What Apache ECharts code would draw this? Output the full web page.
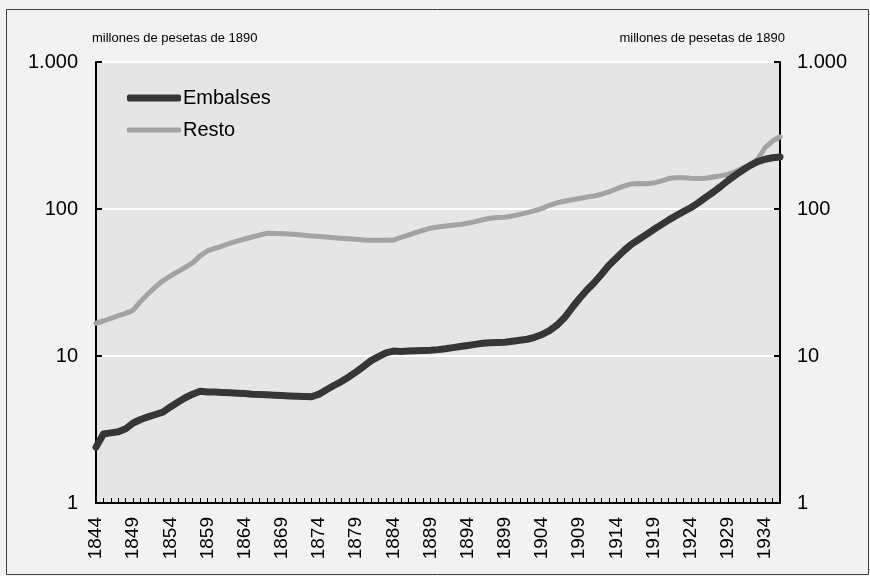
<!DOCTYPE html>
<html>
<head>
<meta charset="utf-8">
<script src="https://cdn.jsdelivr.net/npm/echarts@6/dist/echarts.min.js"></script>
<style>
html,body{margin:0;padding:0;background:#ffffff;}
#chart{width:870px;height:576px;}
</style>
</head>
<body>
<div id="chart"></div>
<script>
// Years 1844..1936
const years = [];
for (let y = 1844; y <= 1936; y++) years.push(String(y));

const embalses = [
  2.4, 2.95, 3.0, 3.05, 3.2, 3.5, 3.7, 3.85, 4.0, 4.15,
  4.5, 4.85, 5.2, 5.5, 5.75, 5.7, 5.68, 5.65, 5.62, 5.58,
  5.55, 5.5, 5.47, 5.44, 5.41, 5.38, 5.35, 5.32, 5.3, 5.28,
  5.5, 5.9, 6.3, 6.7, 7.2, 7.8, 8.5, 9.3, 9.9, 10.5,
  10.8, 10.75, 10.8, 10.85, 10.9, 10.95, 11.05, 11.2, 11.4, 11.6,
  11.8, 12.0, 12.2, 12.3, 12.35, 12.4, 12.6, 12.8, 13.0, 13.4,
  14.0, 14.9, 16.2, 18.2, 21.2, 24.5, 28, 31.5, 36, 41.5,
  46.5, 52, 57.5, 62, 67, 72.5, 78, 84, 90, 96,
  102, 110, 120, 130, 142, 156, 170, 184, 198, 210,
  218, 223, 226
];

const resto = [
  16.7, 17.3, 18.0, 18.8, 19.5, 20.5, 23.5, 26.5, 29.5, 32.5,
  35, 37.5, 40, 43, 48, 52, 54, 56, 58.5, 60.5,
  62.5, 64.5, 66.5, 68.3, 68, 67.8, 67.5, 67, 66.3, 65.6,
  65, 64.4, 63.8, 63.3, 62.8, 62.2, 61.6, 61.2, 61.2, 61.3,
  61.5, 64, 66.5, 69, 71.5, 74, 75.5, 76.5, 77.5, 78.5,
  80, 82, 84.5, 86.5, 87.5, 88, 89.5, 92, 94.5, 97.5,
  101, 106, 110, 113, 115.5, 118, 120.5, 122.5, 126, 131,
  137, 143, 148, 149, 148.5, 150, 155, 161, 163, 163,
  162, 161.5, 162, 165, 168, 172, 180, 190, 200, 218,
  262, 290, 310
];

const seriesNames = ['Embalses', 'Resto'];
const unitLabel = 'millones de pesetas de 1890';

function fmt(v) {
  return v >= 1000 ? String(v).replace(/\B(?=(\d{3})+(?!\d))/g, '.') : String(v);
}

const FONT = 'Liberation Sans, Arial, sans-serif';
const DARK = '#363636';
const LIGHT = '#a3a3a3';
const chart = echarts.init(document.getElementById('chart'), null, {renderer: 'canvas'});

const yAxisCommon = {
  type: 'log',
  logBase: 10,
  min: 1,
  max: 1000,
  axisLine: {show: true, lineStyle: {color: '#000', width: 2}},
  axisTick: {show: true, inside: true, length: 6, lineStyle: {color: '#000', width: 2}},
  minorTick: {show: false},
  axisLabel: {color: '#000', fontSize: 20, fontFamily: FONT, formatter: fmt}
};

const legendCommon = {
  orient: 'vertical',
  left: 127,
  padding: 0,
  itemWidth: 54,
  icon: 'roundRect',
  textStyle: {color: '#000', fontSize: 20, fontFamily: FONT, padding: [0, 0, 0, -3]}
};

chart.setOption({
  backgroundColor: '#f2f2f2',
  animation: false,
  grid: {left: 96, right: 90, top: 62, bottom: 73, show: true, backgroundColor: '#e5e5e5', borderWidth: 0},
  graphic: [
    {type: 'rect', left: 4, top: 7, shape: {width: 862, height: 565}, style: {fill: 'none', stroke: '#404040', lineWidth: 1}, silent: true, z: 100},
    {type: 'text', left: 92, top: 32, style: {text: unitLabel, fontSize: 13, fontFamily: FONT, fill: '#000'}},
    {type: 'text', right: 85, top: 32, style: {text: unitLabel, fontSize: 13, fontFamily: FONT, fill: '#000'}}
  ],
  legend: [
    Object.assign({}, legendCommon, {top: 88, itemHeight: 7, data: [seriesNames[0]]}),
    Object.assign({}, legendCommon, {top: 120, itemHeight: 5, data: [seriesNames[1]]})
  ],
  xAxis: {
    type: 'category',
    data: years,
    boundaryGap: false,
    axisLine: {show: true, lineStyle: {color: '#000', width: 2}},
    axisTick: {show: true, inside: true, length: 5, interval: 0, lineStyle: {color: '#000', width: 1}},
    axisLabel: {interval: 4, rotate: 90, margin: 14, color: '#000', fontSize: 19, fontFamily: FONT},
    splitLine: {show: false}
  },
  yAxis: [
    Object.assign({}, yAxisCommon, {
      position: 'left',
      splitLine: {show: true, lineStyle: {color: '#ffffff', width: 2}},
      axisLabel: Object.assign({}, yAxisCommon.axisLabel, {margin: 18})
    }),
    Object.assign({}, yAxisCommon, {
      position: 'right',
      splitLine: {show: false},
      axisLabel: Object.assign({}, yAxisCommon.axisLabel, {margin: 17})
    })
  ],
  series: [
    {
      name: seriesNames[0], type: 'line', data: embalses, yAxisIndex: 0,
      showSymbol: false, symbol: 'none',
      lineStyle: {color: DARK, width: 7, cap: 'round', join: 'round'},
      itemStyle: {color: DARK}, z: 3
    },
    {
      name: seriesNames[1], type: 'line', data: resto, yAxisIndex: 0,
      showSymbol: false, symbol: 'none',
      lineStyle: {color: LIGHT, width: 5, cap: 'round', join: 'round'},
      itemStyle: {color: LIGHT}, z: 2
    }
  ]
});
</script>
</body>
</html>
